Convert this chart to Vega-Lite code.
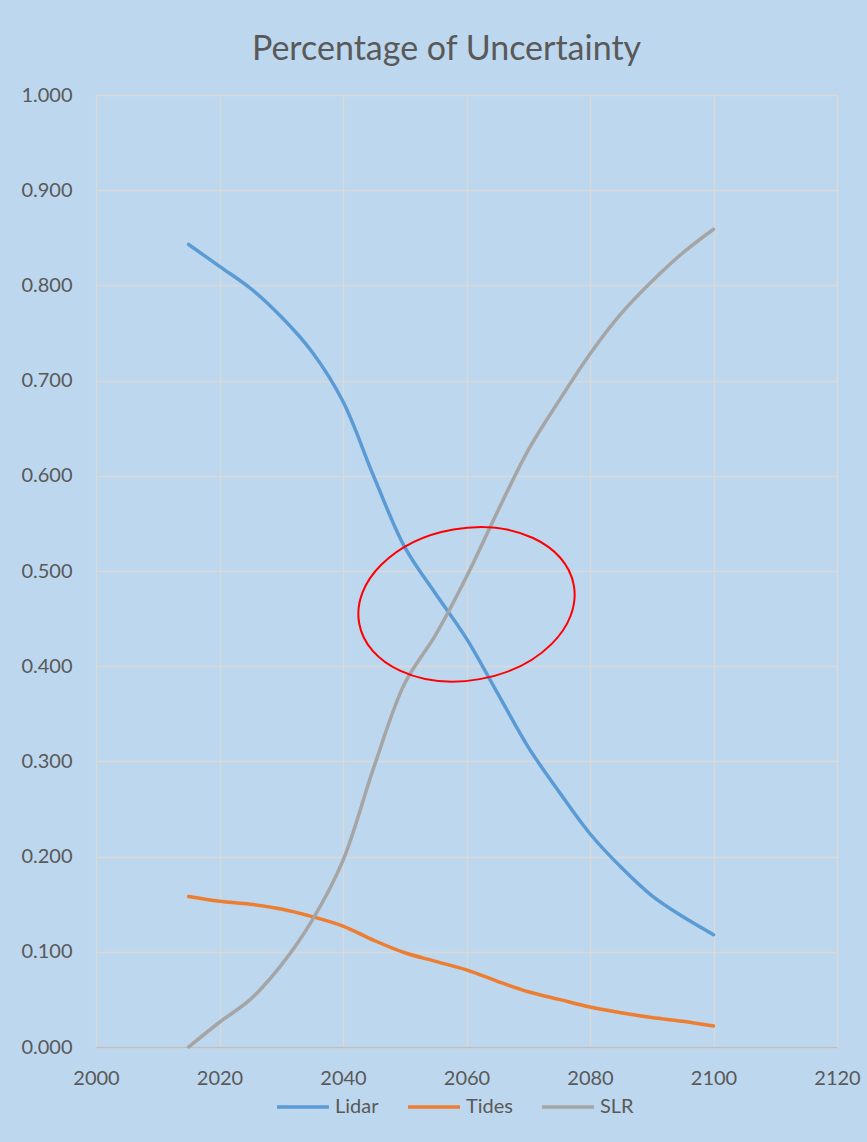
{
  "$schema": "https://vega.github.io/schema/vega-lite/v6.json",
  "width": 741,
  "height": 952,
  "autosize": {"type": "none"},
  "padding": {"left": 96, "top": 95, "right": 30, "bottom": 95},
  "background": "#BDD7EE",
  "config": {
    "font": "Lato",
    "view": {"stroke": null},
    "axis": {
      "labelFont": "Lato",
      "labelFontSize": 20,
      "labelColor": "#595959",
      "gridColor": "#D9D9D9",
      "gridWidth": 1.3,
      "ticks": false,
      "labelFlush": false,
      "title": null
    }
  },
  "title": {
    "text": "Percentage of Uncertainty",
    "font": "Lato",
    "fontSize": 34,
    "fontWeight": "normal",
    "color": "#595959",
    "anchor": "middle",
    "frame": "group",
    "dx": -20,
    "offset": 18
  },
  "datasets": {
    "uncertainty": [
      {"year": 2015, "series": "Lidar", "share": 0.843},
      {"year": 2020, "series": "Lidar", "share": 0.820},
      {"year": 2025, "series": "Lidar", "share": 0.797},
      {"year": 2030, "series": "Lidar", "share": 0.767},
      {"year": 2035, "series": "Lidar", "share": 0.730},
      {"year": 2040, "series": "Lidar", "share": 0.678},
      {"year": 2045, "series": "Lidar", "share": 0.599},
      {"year": 2050, "series": "Lidar", "share": 0.525},
      {"year": 2055, "series": "Lidar", "share": 0.476},
      {"year": 2060, "series": "Lidar", "share": 0.429},
      {"year": 2065, "series": "Lidar", "share": 0.372},
      {"year": 2070, "series": "Lidar", "share": 0.315},
      {"year": 2075, "series": "Lidar", "share": 0.268},
      {"year": 2080, "series": "Lidar", "share": 0.224},
      {"year": 2085, "series": "Lidar", "share": 0.189},
      {"year": 2090, "series": "Lidar", "share": 0.159},
      {"year": 2095, "series": "Lidar", "share": 0.137},
      {"year": 2100, "series": "Lidar", "share": 0.118},
      {"year": 2015, "series": "Tides", "share": 0.158},
      {"year": 2020, "series": "Tides", "share": 0.153},
      {"year": 2025, "series": "Tides", "share": 0.150},
      {"year": 2030, "series": "Tides", "share": 0.145},
      {"year": 2035, "series": "Tides", "share": 0.137},
      {"year": 2040, "series": "Tides", "share": 0.127},
      {"year": 2045, "series": "Tides", "share": 0.112},
      {"year": 2050, "series": "Tides", "share": 0.099},
      {"year": 2055, "series": "Tides", "share": 0.090},
      {"year": 2060, "series": "Tides", "share": 0.081},
      {"year": 2065, "series": "Tides", "share": 0.069},
      {"year": 2070, "series": "Tides", "share": 0.058},
      {"year": 2075, "series": "Tides", "share": 0.050},
      {"year": 2080, "series": "Tides", "share": 0.042},
      {"year": 2085, "series": "Tides", "share": 0.036},
      {"year": 2090, "series": "Tides", "share": 0.031},
      {"year": 2095, "series": "Tides", "share": 0.027},
      {"year": 2100, "series": "Tides", "share": 0.022},
      {"year": 2015, "series": "SLR", "share": 0.000},
      {"year": 2020, "series": "SLR", "share": 0.026},
      {"year": 2025, "series": "SLR", "share": 0.050},
      {"year": 2030, "series": "SLR", "share": 0.086},
      {"year": 2035, "series": "SLR", "share": 0.133},
      {"year": 2040, "series": "SLR", "share": 0.196},
      {"year": 2045, "series": "SLR", "share": 0.294},
      {"year": 2050, "series": "SLR", "share": 0.382},
      {"year": 2055, "series": "SLR", "share": 0.433},
      {"year": 2060, "series": "SLR", "share": 0.494},
      {"year": 2065, "series": "SLR", "share": 0.562},
      {"year": 2070, "series": "SLR", "share": 0.627},
      {"year": 2075, "series": "SLR", "share": 0.679},
      {"year": 2080, "series": "SLR", "share": 0.728},
      {"year": 2085, "series": "SLR", "share": 0.770},
      {"year": 2090, "series": "SLR", "share": 0.804},
      {"year": 2095, "series": "SLR", "share": 0.834},
      {"year": 2100, "series": "SLR", "share": 0.859}
    ],
    "highlight": [
      {"year": 2060, "share": 0.465}
    ]
  },
  "layer": [
    {
      "data": {"name": "uncertainty"},
      "mark": {"type": "line", "interpolate": "catmull-rom", "strokeWidth": 3.5, "strokeCap": "round", "strokeJoin": "round"},
      "encoding": {
        "x": {
          "field": "year",
          "type": "quantitative",
          "scale": {"domain": [2000, 2120], "nice": false, "zero": false},
          "axis": {
            "values": [2000, 2020, 2040, 2060, 2080, 2100, 2120],
            "format": "d",
            "domainColor": "#BFBFBF",
            "domainWidth": 1.5,
            "labelPadding": 21
          }
        },
        "y": {
          "field": "share",
          "type": "quantitative",
          "scale": {"domain": [0, 1], "nice": false},
          "axis": {
            "values": [0, 0.1, 0.2, 0.3, 0.4, 0.5, 0.6, 0.7, 0.8, 0.9, 1],
            "format": ".3f",
            "domain": false,
            "labelPadding": 24
          }
        },
        "color": {
          "field": "series",
          "type": "nominal",
          "scale": {"domain": ["Lidar", "Tides", "SLR"], "range": ["#5B9BD5", "#ED7D31", "#A5A5A5"]},
          "legend": {
            "title": null,
            "orient": "none",
            "legendX": 179,
            "legendY": 984,
            "direction": "horizontal",
            "symbolType": "stroke",
            "symbolSize": 2700,
            "symbolStrokeWidth": 3.5,
            "labelFont": "Lato",
            "labelFontSize": 20,
            "labelColor": "#595959",
            "labelOffset": 4,
            "columnPadding": 22
          }
        },
        "order": {"field": "year", "type": "quantitative"}
      }
    },
    {
      "data": {"name": "highlight"},
      "mark": {
        "type": "point",
        "shape": "M -1 0 A 1 0.697 0 1 1 1 0 A 1 0.697 0 1 1 -1 0 Z",
        "size": 47524,
        "angle": 350,
        "filled": false,
        "color": "#FF0000",
        "strokeWidth": 2,
        "opacity": 1
      },
      "encoding": {
        "x": {"field": "year", "type": "quantitative"},
        "y": {"field": "share", "type": "quantitative"}
      }
    }
  ]
}
